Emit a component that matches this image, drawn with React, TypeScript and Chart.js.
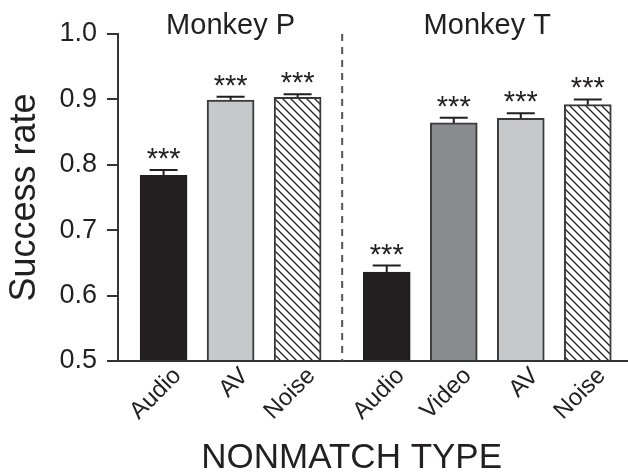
import React, { useEffect, useRef } from "react";
import { Chart, registerables } from "chart.js";

Chart.register(...registerables);

// ---- Data ----
const groupTitles = ["Monkey P", "Monkey T"];
const monkeyPTypes = ["Audio", "AV", "Noise"];
const monkeyPRates = [0.784, 0.899, 0.903];
const monkeyPErrors = [0.008, 0.005, 0.005];
const monkeyPStars = ["***", "***", "***"];
const monkeyTTypes = ["Audio", "Video", "AV", "Noise"];
const monkeyTRates = [0.636, 0.864, 0.871, 0.892];
const monkeyTErrors = [0.010, 0.008, 0.008, 0.008];
const monkeyTStars = ["***", "***", "***", "***"];
const yTickValues = [0.5, 0.6, 0.7, 0.8, 0.9, 1.0];
const xTitle = "NONMATCH TYPE";
const yTitle = "Success rate";

// ---- Layout / style constants ----
const GROUP_GAP = 0.33;
const FONT = "'Liberation Sans', Arial, Helvetica, sans-serif";
const INK = "#231f20";
const AXIS = "#333333";

export default function App() {
  const ref = useRef<HTMLCanvasElement | null>(null);

  useEffect(() => {
    document.body.style.margin = "0";
    const canvas = ref.current;
    if (!canvas) return;

    // hatch pattern
    const tile = document.createElement("canvas");
    tile.width = 8;
    tile.height = 8;
    const tctx = tile.getContext("2d")!;
    tctx.fillStyle = "#ffffff";
    tctx.fillRect(0, 0, 8, 8);
    tctx.strokeStyle = INK;
    tctx.lineWidth = 1.3;
    tctx.beginPath();
    for (const o of [-8, 0, 8]) {
      tctx.moveTo(o - 1, -1);
      tctx.lineTo(o + 9, 9);
    }
    tctx.stroke();
    const ctx0 = canvas.getContext("2d")!;
    const hatch = ctx0.createPattern(tile, "repeat")!;

    const fillFor = (t: string) =>
      t === "Audio" ? INK : t === "Video" ? "#8a8b8e" : t === "AV" ? "#c7c8ca" : hatch;
    const borderFor = (t: string) => (t === "Audio" ? INK : "#3a3a3a");

    const pPos = monkeyPTypes.map((_, i) => i);
    const tPos = monkeyTTypes.map((_, i) => monkeyPTypes.length + GROUP_GAP + i);
    const positions = [...pPos, ...tPos];
    const labels = [...monkeyPTypes, ...monkeyTTypes];
    const rates = [...monkeyPRates, ...monkeyTRates];
    const errors = [...monkeyPErrors, ...monkeyTErrors];
    const stars = [...monkeyPStars, ...monkeyTStars];

    const annotate = {
      id: "annotate",
      afterDatasetsDraw(chart: any) {
        const { ctx, chartArea, scales } = chart;
        const x = scales.x;
        const y = scales.y;
        ctx.save();
        // error bars + stars
        positions.forEach((p, i) => {
          const cx = x.getPixelForValue(p);
          const base = y.getPixelForValue(rates[i]);
          const top = y.getPixelForValue(rates[i] + errors[i]);
          ctx.strokeStyle = INK;
          ctx.lineWidth = 2;
          ctx.beginPath();
          ctx.moveTo(cx, base);
          ctx.lineTo(cx, top);
          ctx.moveTo(cx - 14, top);
          ctx.lineTo(cx + 14, top);
          ctx.stroke();
          ctx.fillStyle = INK;
          ctx.font = `29px ${FONT}`;
          ctx.textAlign = "center";
          ctx.textBaseline = "alphabetic";
          ctx.fillText(stars[i], cx, top - 2);
        });
        // separator
        const sepX = x.getPixelForValue(
          (pPos[pPos.length - 1] + tPos[0]) / 2
        );
        ctx.strokeStyle = "#555555";
        ctx.lineWidth = 2;
        ctx.setLineDash([7, 6]);
        ctx.beginPath();
        ctx.moveTo(sepX, chartArea.top);
        ctx.lineTo(sepX, chartArea.bottom);
        ctx.stroke();
        ctx.setLineDash([]);
        // group titles
        const mean = (a: number[]) => a.reduce((s, v) => s + v, 0) / a.length;
        ctx.fillStyle = INK;
        ctx.font = `29px ${FONT}`;
        ctx.textAlign = "center";
        ctx.textBaseline = "alphabetic";
        ctx.fillText(groupTitles[0], x.getPixelForValue(mean(pPos)), chartArea.top);
        ctx.fillText(groupTitles[1], x.getPixelForValue(mean(tPos)), chartArea.top);
        // x axis title
        ctx.font = `35px ${FONT}`;
        ctx.textBaseline = "alphabetic";
        ctx.fillText(xTitle, chart.width * 0.56, chart.height - 5);
        ctx.restore();
      },
    };

    const chart = new Chart(canvas, {
      type: "bar",
      data: {
        datasets: [
          {
            data: positions.map((p, i) => ({ x: p, y: rates[i] })),
            backgroundColor: labels.map(fillFor) as any,
            borderColor: labels.map(borderFor),
            borderWidth: 2,
            borderSkipped: "start",
            barThickness: 47,
            base: 0.5,
          } as any,
        ],
      },
      options: {
        responsive: false,
        devicePixelRatio: 1,
        animation: false,
        layout: { padding: { top: 34, right: 0, left: 0, bottom: 0 } },
        plugins: { legend: { display: false }, tooltip: { enabled: false } },
        scales: {
          x: {
            type: "linear",
            min: -0.68,
            max: 6.93,
            offset: false,
            afterBuildTicks: (s: any) => {
              s.ticks = positions.map((v) => ({ value: v }));
            },
            afterFit: (s: any) => {
              s.height = 112;
            },
            ticks: {
              callback: (_v: any, i: number) => labels[i],
              minRotation: 45,
              maxRotation: 45,
              autoSkip: false,
              padding: 1,
              labelOffset: 14,
              font: { size: 24, family: FONT },
              color: INK,
            },
            grid: { display: false, drawTicks: false, offset: false },
            border: { display: true, color: AXIS, width: 2 },
            title: { display: false },
          },
          y: {
            min: 0.5,
            max: 1.0,
            afterBuildTicks: (s: any) => {
              s.ticks = yTickValues.map((v) => ({ value: v }));
            },
            afterFit: (s: any) => {
              s.width = 118;
            },
            ticks: {
              callback: (v: any) => Number(v).toFixed(1),
              padding: 10,
              font: { size: 27, family: FONT },
              color: INK,
            },
            grid: {
              drawOnChartArea: false,
              drawTicks: true,
              tickLength: 11,
              color: AXIS,
              lineWidth: 2,
            },
            border: { display: true, color: AXIS, width: 2 },
            title: {
              display: true,
              text: yTitle,
              color: INK,
              font: { size: 36, family: FONT },
              padding: { top: 3, bottom: 0 },
            },
          },
        },
      },
      plugins: [annotate],
    } as any);

    return () => chart.destroy();
  }, []);

  return (
    <div style={{ width: 628, height: 473 }}>
      <canvas ref={ref} width={628} height={473} style={{ display: "block" }} />
    </div>
  );
}
